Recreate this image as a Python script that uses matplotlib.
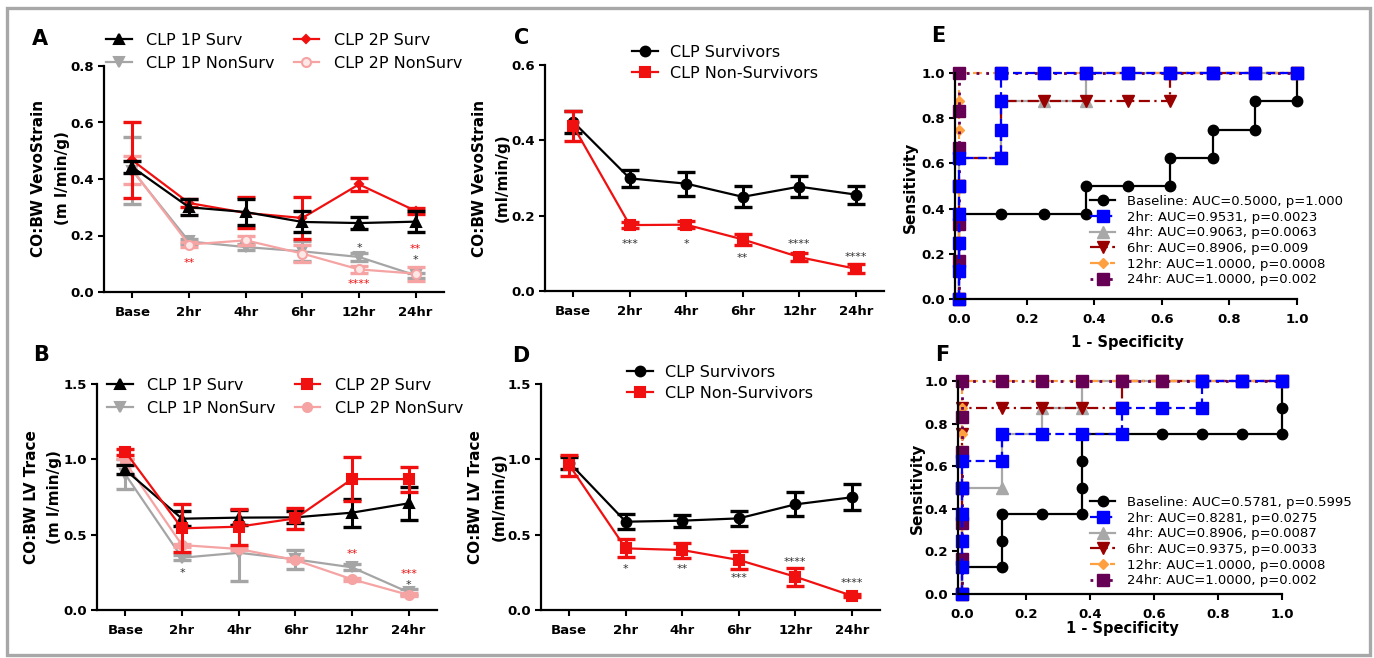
import numpy as np
import matplotlib
matplotlib.use('Agg')
from matplotlib import pyplot as plt
from matplotlib.patches import Rectangle

# ---- data ----
times = ['Base', '2hr', '4hr', '6hr', '12hr', '24hr']

# A: CO:BW VevoStrain, one vs two parameter groups
a_1p_surv = [0.442, 0.300, 0.283, 0.248, 0.244, 0.249]
a_1p_surv_err = [0.02, 0.028, 0.045, 0.037, 0.02, 0.037]
a_2p_surv = [0.466, 0.315, 0.280, 0.262, 0.381, 0.287]
a_2p_surv_err = [0.135, 0.015, 0.055, 0.075, 0.024, 0.01]
a_1p_non = [0.43, 0.179, 0.159, 0.144, 0.124, 0.059]
a_1p_non_err = [0.12, 0.01, 0.012, 0.035, 0.015, 0.01]
a_2p_non = [0.433, 0.168, 0.183, 0.136, 0.080, 0.065]
a_2p_non_err = [0.05, 0.01, 0.015, 0.03, 0.012, 0.025]

# B: CO:BW LV Trace
b_1p_surv = [0.93, 0.606, 0.613, 0.615, 0.646, 0.708]
b_1p_surv_err = [0.03, 0.05, 0.05, 0.04, 0.093, 0.108]
b_2p_surv = [1.05, 0.542, 0.553, 0.608, 0.869, 0.869]
b_2p_surv_err = [0.02, 0.16, 0.12, 0.07, 0.144, 0.083]
b_1p_non = [0.90, 0.347, 0.380, 0.336, 0.283, 0.117]
b_1p_non_err = [0.10, 0.015, 0.185, 0.065, 0.02, 0.02]
b_2p_non = [0.98, 0.431, 0.405, 0.332, 0.204, 0.100]
b_2p_non_err = [0.02, 0.01, 0.01, 0.01, 0.01, 0.01]

# C: survivors vs non-survivors, VevoStrain
c_surv = [0.449, 0.299, 0.285, 0.250, 0.277, 0.256]
c_surv_err = [0.03, 0.022, 0.032, 0.028, 0.027, 0.024]
c_non = [0.438, 0.175, 0.176, 0.137, 0.090, 0.059]
c_non_err = [0.04, 0.008, 0.01, 0.015, 0.01, 0.012]

# D: survivors vs non-survivors, LV Trace
d_surv = [0.978, 0.586, 0.593, 0.608, 0.701, 0.748]
d_surv_err = [0.04, 0.05, 0.04, 0.05, 0.08, 0.085]
d_non = [0.962, 0.409, 0.398, 0.332, 0.221, 0.095]
d_non_err = [0.07, 0.06, 0.05, 0.06, 0.06, 0.01]

# significance marks: (time index, y, text, colour)
a_stars = [(1, 0.104, '**', 'r'), (4, 0.156, '*', 'k'), (4, 0.027, '****', 'r'),
           (5, 0.152, '**', 'r'), (5, 0.113, '*', 'k')]
b_stars = [(1, 0.248, '*', 'k'), (4, 0.369, '**', 'r'), (5, 0.239, '***', 'r'),
           (5, 0.166, '*', 'k')]
c_stars = [(1, 0.126, '***', 'k'), (2, 0.126, '*', 'k'), (3, 0.088, '**', 'k'),
           (4, 0.126, '****', 'k'), (5, 0.089, '****', 'k')]
d_stars = [(1, 0.27, '*', 'k'), (2, 0.27, '**', 'k'), (3, 0.215, '***', 'k'),
           (4, 0.32, '****', 'k'), (5, 0.18, '****', 'k')]

# E: ROC curves, VevoStrain (x = 1 - specificity, y = sensitivity)
e_base_x = [0, 0, 0, 0, 0.125, 0.25, 0.375, 0.375, 0.5, 0.625, 0.625, 0.75, 0.75, 0.875, 0.875, 1, 1]
e_base_y = [0, 0.125, 0.25, 0.375, 0.375, 0.375, 0.375, 0.5, 0.5, 0.5, 0.625, 0.625, 0.75, 0.75, 0.875, 0.875, 1]
e_2hr_x = [0, 0, 0, 0, 0, 0, 0.125, 0.125, 0.125, 0.125, 0.25, 0.375, 0.5, 0.625, 0.75, 0.875, 1]
e_2hr_y = [0, 0.125, 0.25, 0.375, 0.5, 0.625, 0.625, 0.75, 0.875, 1, 1, 1, 1, 1, 1, 1, 1]
e_4hr_x = [0, 0, 0, 0, 0, 0, 0.125, 0.125, 0.25, 0.375, 0.375, 0.5, 0.625, 0.75, 0.875, 1]
e_4hr_y = [0, 0.125, 0.25, 0.375, 0.5, 0.625, 0.625, 0.875, 0.875, 0.875, 1, 1, 1, 1, 1, 1]
e_6hr_x = [0, 0, 0, 0, 0, 0, 0.125, 0.125, 0.25, 0.375, 0.5, 0.625, 0.625, 0.75, 0.875, 1]
e_6hr_y = [0, 0.125, 0.25, 0.375, 0.5, 0.625, 0.625, 0.875, 0.875, 0.875, 0.875, 0.875, 1, 1, 1, 1]
e_12hr_x = [0, 0, 0, 0, 0, 0, 0, 0, 0, 0.125, 0.25, 0.375, 0.5, 0.625, 0.75, 0.875, 1]
e_12hr_y = [0, 0.125, 0.25, 0.375, 0.5, 0.625, 0.75, 0.875, 1, 1, 1, 1, 1, 1, 1, 1, 1]
e_24hr_x = [0, 0, 0, 0, 0, 0, 0, 0.125, 0.25, 0.375, 0.5, 0.625, 0.75, 0.875, 1]
e_24hr_y = [0, 1/6, 2/6, 3/6, 4/6, 5/6, 1, 1, 1, 1, 1, 1, 1, 1, 1]
e_labels = ['Baseline: AUC=0.5000, p=1.000', '2hr: AUC=0.9531, p=0.0023',
            '4hr: AUC=0.9063, p=0.0063', '6hr: AUC=0.8906, p=0.009',
            '12hr: AUC=1.0000, p=0.0008', '24hr: AUC=1.0000, p=0.002']

# F: ROC curves, LV Trace
f_base_x = [0, 0, 0.125, 0.125, 0.125, 0.25, 0.375, 0.375, 0.375, 0.375, 0.5, 0.625, 0.75, 0.875, 1, 1, 1]
f_base_y = [0, 0.125, 0.125, 0.25, 0.375, 0.375, 0.375, 0.5, 0.625, 0.75, 0.75, 0.75, 0.75, 0.75, 0.75, 0.875, 1]
f_2hr_x = [0, 0, 0, 0, 0, 0, 0.125, 0.125, 0.25, 0.375, 0.5, 0.5, 0.625, 0.75, 0.75, 0.875, 1]
f_2hr_y = [0, 0.125, 0.25, 0.375, 0.5, 0.625, 0.625, 0.75, 0.75, 0.75, 0.75, 0.875, 0.875, 0.875, 1, 1, 1]
f_4hr_x = [0, 0, 0, 0, 0, 0.125, 0.125, 0.25, 0.25, 0.375, 0.375, 0.5, 0.625, 0.75, 0.875, 1]
f_4hr_y = [0, 0.125, 0.25, 0.375, 0.5, 0.5, 0.75, 0.75, 0.875, 0.875, 1, 1, 1, 1, 1, 1]
f_6hr_x = [0, 0, 0, 0, 0, 0, 0, 0, 0.125, 0.25, 0.375, 0.5, 0.5, 0.625, 0.75, 0.875, 1]
f_6hr_y = [0, 0.125, 0.25, 0.375, 0.5, 0.625, 0.75, 0.875, 0.875, 0.875, 0.875, 0.875, 1, 1, 1, 1, 1]
f_12hr_x = e_12hr_x
f_12hr_y = e_12hr_y
f_24hr_x = e_24hr_x
f_24hr_y = e_24hr_y
f_labels = ['Baseline: AUC=0.5781, p=0.5995', '2hr: AUC=0.8281, p=0.0275',
            '4hr: AUC=0.8906, p=0.0087', '6hr: AUC=0.9375, p=0.0033',
            '12hr: AUC=1.0000, p=0.0008', '24hr: AUC=1.0000, p=0.002']

RED = '#f01010'
GREY = '#a5a5a5'
PINK = '#f5a3a3'
W, H = 1374, 658


def box(left, top, right, bottom):
    # pixel box -> figure fraction
    return [left / W, (H - bottom) / H, (right - left) / W, (bottom - top) / H]


def style(ax):
    for s in ['top', 'right']:
        ax.spines[s].set_visible(False)
    for s in ['left', 'bottom']:
        ax.spines[s].set_linewidth(1.6)
    ax.tick_params(direction='out', length=4, width=1.5, labelsize=9.5, pad=3)
    ax.tick_params(axis='x', pad=6)
    for lab in ax.get_xticklabels() + ax.get_yticklabels():
        lab.set_fontweight('bold')


def time_panel(ax, ymax, ystep):
    ax.set_xlim(-0.5, 5.5)
    ax.set_ylim(0, ymax)
    ax.set_xticks(range(6))
    ax.set_xticklabels(times)
    ax.set_yticks(np.arange(0, ymax + 1e-9, ystep))
    ax.set_yticklabels(['%.1f' % v for v in np.arange(0, ymax + 1e-9, ystep)])
    style(ax)


def series(ax, y, err, color, marker, ms, label, mfc=None):
    x = np.arange(len(y))
    ax.errorbar(x, y, yerr=err, fmt='none', ecolor=color, elinewidth=2.2,
                capsize=6.5, capthick=2.4, clip_on=False)
    ax.plot(x, y, color=color, marker=marker, ms=ms, lw=1.6,
            mfc=mfc if mfc else color, mec=color, mew=1.5, label=label, clip_on=False)


def stars(ax, marks):
    for i, y, s, c in marks:
        col = RED if c == 'r' else '#333333'
        ax.text(i, y, s, color=col, fontsize=8, ha='center', va='center')


def two_col_legend(ax, order, x, top):
    h, l = ax.get_legend_handles_labels()
    ax.legend([h[i] for i in order], [l[i] for i in order], ncol=2, loc='upper left',
              bbox_to_anchor=(x / W, (H - top) / H), bbox_transform=fig.transFigure,
              frameon=False, fontsize=11.5, borderpad=0, borderaxespad=0,
              handlelength=1.6, handletextpad=0.9, columnspacing=1.2, labelspacing=0.5)


fig = plt.figure(figsize=(W / 100, H / 100), dpi=100)

# ---- A ----
axA = fig.add_axes(box(104, 66, 444, 292))
series(axA, a_1p_non, a_1p_non_err, GREY, 'v', 7, 'CLP 1P NonSurv')
series(axA, a_2p_non, a_2p_non_err, PINK, 'o', 6.5, 'CLP 2P NonSurv', mfc='#fde8e8')
series(axA, a_2p_surv, a_2p_surv_err, RED, 'D', 4, 'CLP 2P Surv')
series(axA, a_1p_surv, a_1p_surv_err, 'k', '^', 7, 'CLP 1P Surv')
time_panel(axA, 0.8, 0.2)
stars(axA, a_stars)
two_col_legend(axA, [3, 0, 2, 1], 106, 33)

# ---- B ----
axB = fig.add_axes(box(97, 384, 437, 610))
series(axB, b_1p_non, b_1p_non_err, GREY, 'v', 7, 'CLP 1P NonSurv')
series(axB, b_2p_non, b_2p_non_err, PINK, 'o', 6.5, 'CLP 2P NonSurv')
series(axB, b_1p_surv, b_1p_surv_err, 'k', '^', 7, 'CLP 1P Surv')
series(axB, b_2p_surv, b_2p_surv_err, RED, 's', 7, 'CLP 2P Surv')
time_panel(axB, 1.5, 0.5)
stars(axB, b_stars)
two_col_legend(axB, [2, 0, 3, 1], 107, 378)

# ---- C ----
axC = fig.add_axes(box(545, 65, 884, 291))
series(axC, c_surv, c_surv_err, 'k', 'o', 7, 'CLP Survivors')
series(axC, c_non, c_non_err, RED, 's', 7.5, 'CLP Non-Survivors')
time_panel(axC, 0.6, 0.2)
stars(axC, c_stars)
axC.legend(loc='upper left', bbox_to_anchor=(632 / W, (H - 45) / H),
           bbox_transform=fig.transFigure, frameon=False, fontsize=11.5,
           borderpad=0, borderaxespad=0, handlelength=1.6, handletextpad=0.8,
           labelspacing=0.38)

# ---- D ----
axD = fig.add_axes(box(541, 384, 880, 610))
series(axD, d_surv, d_surv_err, 'k', 'o', 7, 'CLP Survivors')
series(axD, d_non, d_non_err, RED, 's', 7.5, 'CLP Non-Survivors')
time_panel(axD, 1.5, 0.5)
stars(axD, d_stars)
axD.legend(loc='upper left', bbox_to_anchor=(627 / W, (H - 365) / H),
           bbox_transform=fig.transFigure, frameon=False, fontsize=11.5,
           borderpad=0, borderaxespad=0, handlelength=1.6, handletextpad=0.8,
           labelspacing=0.38)


def roc_panel(ax, curves, labels, legend_top):
    styles = [('k', 'o', '-', 7.5, 1.6),
              ('#0000ff', 's', (0, (4, 2)), 8, 1.6),
              ('#a8a8a8', '^', '-', 8, 1.6),
              ('#990000', 'v', (0, (5, 2, 1, 2)), 8, 1.6),
              ('#ffa040', 'D', (0, (4, 2, 1, 2)), 5.5, 1.6),
              ('#660055', 's', (0, (1, 2.5)), 8, 2.0)]
    draw = [0, 2, 3, 4, 5, 1]
    lines = {}
    for i in draw:
        xs, ys = curves[i]
        c, m, ls, ms, lw = styles[i]
        ln, = ax.plot(xs, ys, color=c, marker=m, ls=ls, ms=ms, lw=lw,
                      label=labels[i], clip_on=False)
        lines[i] = ln
    ax.set_xlim(-0.012, 1.0)
    ax.set_ylim(0, 1.0)
    ticks = np.arange(0, 1.01, 0.2)
    ax.set_xticks(ticks)
    ax.set_yticks(ticks)
    ax.set_xticklabels(['%.1f' % t for t in ticks])
    ax.set_yticklabels(['%.1f' % t for t in ticks])
    style(ax)
    ax.legend([lines[i] for i in range(6)], labels, loc='upper left',
              bbox_to_anchor=(1090 / W, (H - legend_top) / H),
              bbox_transform=fig.transFigure, frameon=False, fontsize=9.5,
              borderpad=0, borderaxespad=0, handlelength=1.9,
              handletextpad=0.9, labelspacing=0.2)


# ---- E ----
axE = fig.add_axes(box(955, 73, 1297, 299))
roc_panel(axE, [(e_base_x, e_base_y), (e_2hr_x, e_2hr_y), (e_4hr_x, e_4hr_y),
                (e_6hr_x, e_6hr_y), (e_12hr_x, e_12hr_y), (e_24hr_x, e_24hr_y)],
          e_labels, 195)

# ---- F ----
axF = fig.add_axes(box(958, 381, 1282, 594))
roc_panel(axF, [(f_base_x, f_base_y), (f_2hr_x, f_2hr_y), (f_4hr_x, f_4hr_y),
                (f_6hr_x, f_6hr_y), (f_12hr_x, f_12hr_y), (f_24hr_x, f_24hr_y)],
          f_labels, 496)

# ---- axis titles and panel letters ----
def ftext(x, y, s, **kw):
    fig.text(x / W, (H - y) / H, s, **kw)


ylab = dict(rotation=90, ha='center', va='center', fontsize=11, fontweight='bold')
ftext(39, 178, 'CO:BW VevoStrain', **ylab)
ftext(62, 178, '(m l/min/g)', **ylab)
ftext(31, 497, 'CO:BW LV Trace', **ylab)
ftext(55, 497, '(m l/min/g)', **ylab)
ftext(480, 178, 'CO:BW VevoStrain', **ylab)
ftext(502, 178, '(ml/min/g)', **ylab)
ftext(476, 497, 'CO:BW LV Trace', **ylab)
ftext(499, 497, '(ml/min/g)', **ylab)
ftext(910, 187, 'Sensitivity', **ylab)
ftext(917, 488, 'Sensitivity', **ylab)
ftext(1127, 343, '1 - Specificity', ha='center', va='center', fontsize=10.5, fontweight='bold')
ftext(1122, 629, '1 - Specificity', ha='center', va='center', fontsize=10.5, fontweight='bold')

for letter, x, y in [('A', 40, 39), ('B', 41, 355), ('C', 522, 38), ('D', 521, 356),
                     ('E', 938, 36), ('F', 942, 355)]:
    ftext(x, y, letter, ha='center', va='center', fontsize=15, fontweight='bold')

# grey frame round the whole figure
fig.patches.append(Rectangle((7 / W, 3 / H), 1363 / W, 647 / H, transform=fig.transFigure,
                             fill=False, ec='#a8a8a8', lw=2.4))

fig.savefig('out.png', dpi=100)
